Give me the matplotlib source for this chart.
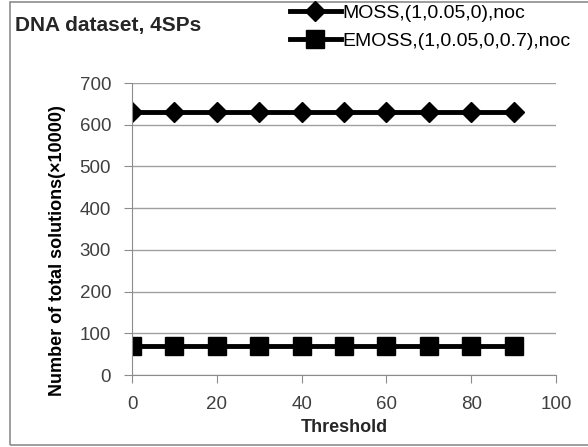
import matplotlib.pyplot as plt
from matplotlib.patches import Rectangle

threshold = [0, 10, 20, 30, 40, 50, 60, 70, 80, 90]
moss = [630, 630, 630, 630, 630, 630, 630, 630, 630, 630]
emoss = [70, 70, 70, 70, 70, 70, 70, 70, 70, 70]

plt.rcParams['font.family'] = ['Liberation Sans', 'DejaVu Sans']

fig = plt.figure(figsize=(5.88, 4.47), dpi=100)
# outer chart frame (right edge cropped off in the original)
fig.patches.append(Rectangle((10 / 588, 2 / 447), 1.0, 443 / 447, transform=fig.transFigure,
                             fill=False, edgecolor='#8c8c8c', linewidth=1.2))
ax = fig.add_axes([132 / 588, 1 - 375 / 447, 424 / 588, 292 / 447])

l1, = ax.plot(threshold, moss, color='black', lw=3.5, marker='D', markersize=10,
              label='MOSS,(1,0.05,0),noc')
l2, = ax.plot(threshold, emoss, color='black', lw=3.5, marker='s', markersize=13,
              label='EMOSS,(1,0.05,0,0.7),noc')

ax.set_xlim(0, 100)
ax.set_ylim(0, 700)
ax.set_xticks(range(0, 101, 20))
ax.set_yticks(range(0, 701, 100))
ax.grid(axis='y', color='#a0a0a0', lw=1.0)
ax.set_axisbelow(True)
for s in ['top', 'right']:
    ax.spines[s].set_visible(False)
for s in ['left', 'bottom']:
    ax.spines[s].set_color('#8c8c8c')
ax.tick_params(direction='out', length=6, color='#8c8c8c', labelsize=13.5,
               labelcolor='#404040', pad=9)
ax.set_xlabel('Threshold', fontsize=13, fontweight='bold', color='#262626')
ax.xaxis.set_label_coords(0.5, -0.152)
ax.set_ylabel('Number of total solutions(×10000)', fontsize=13, fontweight='bold',
              color='black')
ax.yaxis.set_label_coords(-0.155, 0.425)

fig.text(15 / 588, 1 - 25 / 447, 'DNA dataset, 4SPs', fontsize=15, fontweight='bold',
         color='#262626', va='center')
fig.legend(handles=[l1, l2], loc='upper left', bbox_to_anchor=(290 / 588, 1 - 4 / 447),
           frameon=False, fontsize=14, handlelength=2.6, handletextpad=0.1,
           labelspacing=0.55, borderaxespad=0.0, borderpad=0.0)

fig.savefig('out.png', dpi=100)
